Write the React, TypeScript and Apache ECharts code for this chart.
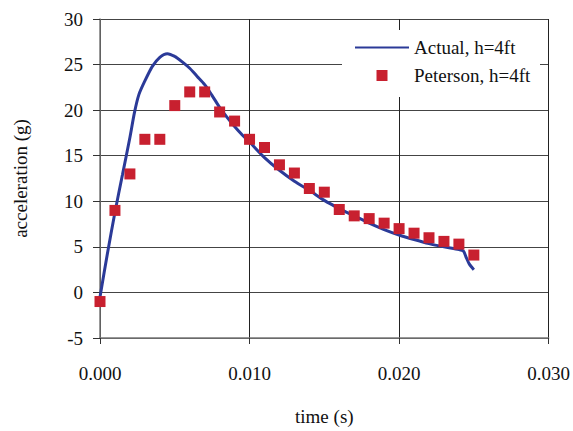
import React, { useEffect, useRef } from "react";
import * as echarts from "echarts";

const actualT = [0, 0.0005, 0.001, 0.0015, 0.002, 0.0023, 0.0026, 0.003, 0.0035, 0.004, 0.0045, 0.005, 0.0055, 0.006, 0.0065, 0.007, 0.0075, 0.008, 0.0085, 0.009, 0.0095, 0.01, 0.011, 0.012, 0.013, 0.014, 0.015, 0.016, 0.017, 0.018, 0.019, 0.02, 0.021, 0.022, 0.023, 0.024, 0.0243, 0.0245, 0.0247, 0.025];
const actualG = [-0.5, 4.3, 8.8, 12.9, 17.0, 19.7, 21.7, 23.2, 24.8, 25.8, 26.2, 25.9, 25.3, 24.6, 23.7, 22.8, 21.6, 20.3, 19.2, 18.2, 17.3, 16.5, 14.8, 13.4, 12.2, 11.2, 10.1, 9.2, 8.4, 7.6, 6.9, 6.3, 5.8, 5.35, 5.0, 4.7, 4.55, 3.8, 3.1, 2.5];

const petersonT = [0, 0.001, 0.002, 0.003, 0.004, 0.005, 0.006, 0.007, 0.008, 0.009, 0.01, 0.011, 0.012, 0.013, 0.014, 0.015, 0.016, 0.017, 0.018, 0.019, 0.02, 0.021, 0.022, 0.023, 0.024, 0.025];
const petersonG = [-1.0, 9.0, 13.0, 16.8, 16.8, 20.5, 22.0, 22.0, 19.8, 18.8, 16.8, 15.9, 14.0, 13.1, 11.4, 11.0, 9.1, 8.4, 8.1, 7.6, 7.0, 6.5, 6.0, 5.6, 5.3, 4.1];

const seriesNames = ["Actual, h=4ft", "Peterson, h=4ft"];
const xTicks = { min: 0, max: 0.03, interval: 0.01 };
const yTicks = { min: -5, max: 30, interval: 5 };

const FONT = "'Liberation Serif', 'Times New Roman', serif";
const FS = 19;

export default function App() {
  const ref = useRef<HTMLDivElement>(null);
  useEffect(() => {
    if (!ref.current) return;
    const chart = echarts.init(ref.current, null, { renderer: "svg" });
    chart.setOption({
      animation: false,
      backgroundColor: "#ffffff",
      textStyle: { fontFamily: FONT },
      grid: { left: 100, right: 23, top: 19, bottom: 90, containLabel: false },
      xAxis: {
        type: "value",
        min: xTicks.min,
        max: xTicks.max,
        interval: xTicks.interval,
        name: "time (s)",
        nameLocation: "middle",
        nameGap: 69,
        nameTextStyle: { fontFamily: FONT, fontSize: FS, color: "#111" },
        axisLine: { onZero: false, lineStyle: { color: "#777", width: 1.5 } },
        axisTick: { show: true, length: 6, lineStyle: { color: "#333" } },
        axisLabel: {
          margin: 26,
          fontFamily: FONT,
          fontSize: FS,
          color: "#111",
          formatter: (v: number) => v.toFixed(3),
        },
        splitLine: { show: true, lineStyle: { color: "#222", width: 1 } },
      },
      yAxis: {
        type: "value",
        min: yTicks.min,
        max: yTicks.max,
        interval: yTicks.interval,
        name: "acceleration (g)",
        nameLocation: "middle",
        nameRotate: 90,
        nameGap: 70,
        nameTextStyle: { fontFamily: FONT, fontSize: FS, color: "#111" },
        axisLine: { show: true, lineStyle: { color: "#777", width: 1.5 } },
        axisTick: { show: true, length: 7, lineStyle: { color: "#333" } },
        axisLabel: { margin: 17, fontFamily: FONT, fontSize: FS, color: "#111" },
        splitLine: { show: true, lineStyle: { color: "#444", width: 1 } },
      },
      legend: {
        orient: "vertical",
        left: 354,
        top: 38,
        padding: 0,
        itemWidth: 54,
        itemHeight: 11,
        itemGap: 9,
        symbolKeepAspect: true,
        selectedMode: false,
        textStyle: { fontFamily: FONT, fontSize: FS, color: "#111" },
        data: [
          {
            name: seriesNames[0],
            itemStyle: { color: "rgba(0,0,0,0)", borderWidth: 0, opacity: 0 },
          },
          {
            name: seriesNames[1],
            icon: "path://M0,0L10,0L10,10L0,10Z",
            itemStyle: { color: "#C8202F", opacity: 1 },
          },
        ],
        z: 10,
      },
      graphic: [
        {
          type: "rect",
          shape: { x: 342, y: 30, width: 198, height: 67 },
          style: { fill: "#ffffff" },
          z: 5,
        },
      ],
      series: [
        {
          name: seriesNames[0],
          type: "line",
          data: actualT.map((t, i) => [t, actualG[i]]),
          symbol: "none",
          smooth: 0.25,
          lineStyle: { color: "#2B3A98", width: 3 },
          itemStyle: { color: "#2B3A98" },
          z: 3,
        },
        {
          name: seriesNames[1],
          type: "scatter",
          data: petersonT.map((t, i) => [t, petersonG[i]]),
          symbol: "rect",
          symbolSize: 11,
          itemStyle: { color: "#C8202F", opacity: 1 },
          z: 4,
        },
      ],
    });
    return () => chart.dispose();
  }, []);
  return <div ref={ref} style={{ width: 573, height: 431, position: "absolute", left: 0, top: 0 }} />;
}
